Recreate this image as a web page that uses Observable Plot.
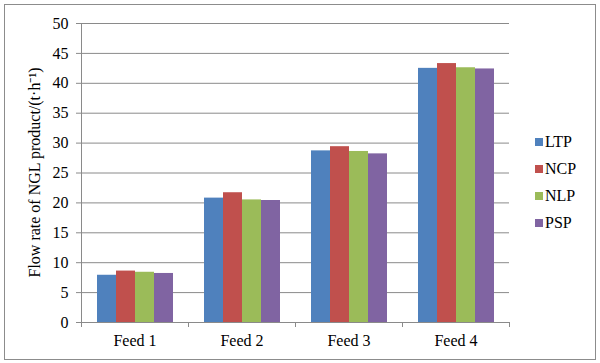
<!DOCTYPE html>
<html>
<head>
<meta charset="utf-8">
<script src="https://cdn.jsdelivr.net/npm/d3@7"></script>
<script src="https://cdn.jsdelivr.net/npm/@observablehq/plot@0.6"></script>
<style>
  html, body { margin: 0; padding: 0; background: #fff; }
  #wrap { position: relative; width: 600px; height: 363px; overflow: hidden; font-family: "Liberation Serif", serif; }
  #border { position: absolute; left: 4px; top: 4px; width: 592px; height: 356px; border: 1px solid #8c8c8c; box-sizing: border-box; }
  #legend { position: absolute; left: 535px; top: 128px; font-size: 16px; color: #000; font-family: "Liberation Serif", serif; }
  .row { display: flex; align-items: center; height: 27px; }
  .sw { width: 8px; height: 8px; margin-right: 2px; }
</style>
</head>
<body>
<div id="wrap">
  <div id="chart"></div>
  <div id="border"></div>
  <div id="legend"></div>
</div>
<script>
const feeds = ["Feed 1", "Feed 2", "Feed 3", "Feed 4"];
const seriesNames = ["LTP", "NCP", "NLP", "PSP"];
const colors = ["#4F81BD", "#C0504D", "#9BBB59", "#8064A2"];
const LTP = [7.9, 20.8, 28.7, 42.5];
const NCP = [8.6, 21.7, 29.4, 43.3];
const NLP = [8.4, 20.5, 28.6, 42.6];
const PSP = [8.2, 20.4, 28.2, 42.4];
const yTicks = [0, 5, 10, 15, 20, 25, 30, 35, 40, 45, 50];
const yLabel = "Flow rate of NGL product/(t·h⁻¹)";

const seriesValues = [LTP, NCP, NLP, PSP];
const data = [];
feeds.forEach((f, i) => seriesNames.forEach((s, j) => data.push({feed: f, series: s, value: seriesValues[j][i]})));

const gridColor = "#8a8a8a";
const fontFam = "'Liberation Serif', serif";

const chart = Plot.plot({
  width: 600,
  height: 363,
  marginLeft: 79,
  marginRight: 90,
  marginTop: 23,
  marginBottom: 41,
  style: {fontFamily: fontFam, fontSize: "16px", color: "#000", background: "transparent"},
  fx: {domain: feeds, padding: 0, label: null, axis: null},
  x: {domain: seriesNames, paddingInner: 0, paddingOuter: 0.78, axis: null},
  y: {domain: [0, 50], axis: null},
  color: {domain: seriesNames, range: colors},
  marks: [
    Plot.gridY(yTicks, {stroke: gridColor, strokeOpacity: 1, strokeWidth: 1}),
    Plot.axisY(yTicks, {tickSize: 5, tickPadding: 8, stroke: gridColor, fontSize: 16, fontFamily: fontFam, label: null}),
    Plot.axisFx({anchor: "bottom", tickSize: 0, tickPadding: 12, fontSize: 16, fontFamily: fontFam, label: null}),
    Plot.barY(data, {fx: "feed", x: "series", y: "value", fill: "series"})
  ]
});
document.getElementById("chart").appendChild(chart);

// axis lines and category separators computed from Plot's own scales
const fxS = chart.scale("fx");
const yS = chart.scale("y");
const svg = d3.select(chart);
const g = svg.append("g").attr("stroke", gridColor).attr("stroke-width", 1).attr("shape-rendering", "crispEdges");
const left = fxS.apply(feeds[0]);
const right = fxS.apply(feeds[feeds.length - 1]) + fxS.bandwidth;
const y0 = yS.apply(0), yTop = yS.apply(50);
g.append("line").attr("x1", left).attr("x2", left).attr("y1", yTop).attr("y2", y0 + 5);
g.append("line").attr("x1", left).attr("x2", right).attr("y1", y0).attr("y2", y0);
const bounds = feeds.map(f => fxS.apply(f)).concat([right]);
bounds.forEach(b => g.append("line").attr("x1", b).attr("x2", b).attr("y1", y0).attr("y2", y0 + 5));

// y-axis title
svg.append("text")
  .attr("transform", `translate(40,${(y0 + yTop) / 2}) rotate(-90)`)
  .attr("text-anchor", "middle")
  .attr("font-size", 16)
  .attr("font-family", fontFam)
  .attr("fill", "#000")
  .text(yLabel);
svg.style("position", "absolute").style("left", "0px").style("top", "0px");

// legend
const leg = d3.select("#legend");
seriesNames.forEach((s, i) => {
  const r = leg.append("div").attr("class", "row");
  r.append("div").attr("class", "sw").style("background", colors[i]);
  r.append("span").text(s);
});
</script>
</body>
</html>
